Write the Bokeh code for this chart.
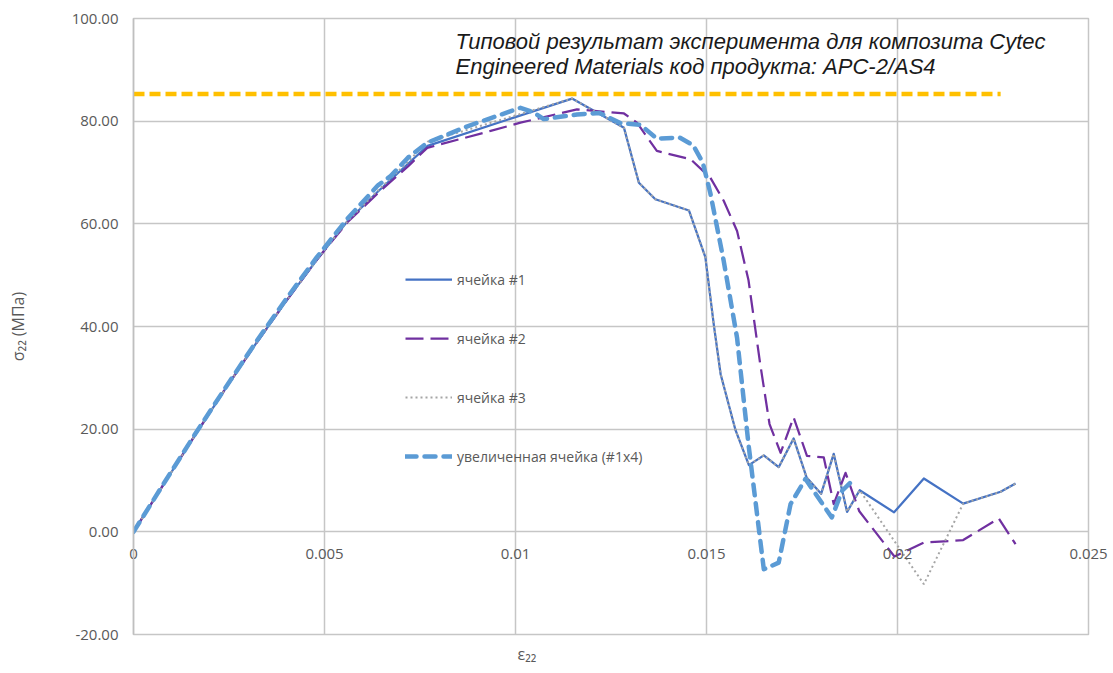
from bokeh.plotting import figure
from bokeh.models import (Range1d, FixedTicker, PrintfTickFormatter, Legend,
                          LegendItem, Label, LinearAxis, Title)
from bokeh.embed import file_html
from bokeh.resources import INLINE

# Strain / stress curves, σ22 in MPa versus ε22
eps_cell1 = [0.0, 0.0008, 0.0016, 0.0024, 0.0032, 0.0040, 0.0048, 0.0056, 0.0064, 0.0072,
             0.0077, 0.01148, 0.01284, 0.01323, 0.01366, 0.01454, 0.01497, 0.01519, 0.01537,
             0.01576, 0.01611, 0.0165, 0.01689, 0.01728, 0.01762, 0.0180, 0.01833, 0.01868,
             0.01901, 0.01991, 0.02069, 0.02172, 0.0227, 0.02309]
sig_cell1 = [0.0, 9.4, 18.7, 27.8, 36.6, 45.0, 53.0, 60.5, 66.3, 71.8,
             75.2, 84.4, 78.7, 68.0, 64.8, 62.6, 53.5, 40.4, 30.7,
             19.8, 13.0, 14.9, 12.6, 18.2, 10.6, 7.4, 15.2, 3.9,
             8.1, 3.8, 10.4, 5.5, 7.8, 9.4]

eps_cell2 = [0.0, 0.0008, 0.0016, 0.0024, 0.0032, 0.0040, 0.0048, 0.0056, 0.0064, 0.0072,
             0.00769, 0.00935, 0.01013, 0.01161, 0.01284, 0.01318, 0.0137, 0.01458, 0.0151,
             0.01545, 0.0158, 0.0161, 0.0164, 0.01665, 0.01694, 0.01728, 0.01763, 0.01807,
             0.01833, 0.01864, 0.0190, 0.01992, 0.02069, 0.02172, 0.02265, 0.02309]
sig_cell2 = [0.0, 9.4, 18.7, 27.8, 36.6, 45.0, 53.0, 60.3, 66.0, 71.3,
             74.8, 78.1, 79.7, 82.3, 81.5, 79.7, 74.2, 72.6, 69.0,
             64.5, 58.6, 49.0, 33.0, 21.0, 15.4, 22.3, 14.8, 14.5,
             5.4, 11.5, 4.0, -4.8, -2.1, -1.6, 2.6, -2.4]

eps_cell3 = [0.0, 0.0008, 0.0016, 0.0024, 0.0032, 0.0040, 0.0048, 0.0056, 0.0064, 0.0072,
             0.0077, 0.01148, 0.01284, 0.01323, 0.01366, 0.01454, 0.01497, 0.01519, 0.01537,
             0.01576, 0.01611, 0.0165, 0.01689, 0.01728, 0.01762, 0.0180, 0.01833, 0.01868,
             0.01901, 0.02069, 0.02172, 0.0227, 0.02309]
sig_cell3 = [0.0, 9.4, 18.7, 27.8, 36.6, 45.0, 53.0, 60.5, 66.5, 72.2,
             76.0, 84.4, 78.7, 68.0, 64.8, 62.6, 53.5, 40.4, 30.7,
             19.8, 13.0, 14.9, 12.6, 18.2, 10.6, 7.4, 15.2, 3.9,
             8.1, -10.2, 5.5, 7.8, 9.4]

eps_big = [0.0, 0.0008, 0.0016, 0.0024, 0.0032, 0.0040, 0.0048, 0.0056, 0.0064, 0.00673,
           0.0072, 0.00769, 0.00874, 0.01013, 0.01048, 0.01074, 0.01161, 0.0122, 0.01275,
           0.01327, 0.0137, 0.0143, 0.01465, 0.0149, 0.0151, 0.01545, 0.0158, 0.0161,
           0.0165, 0.01689, 0.0172, 0.01759, 0.01828, 0.01855, 0.01881]
sig_big = [0.0, 9.5, 18.9, 28.0, 36.9, 45.4, 53.5, 61.0, 67.5, 69.3,
           73.0, 75.8, 79.0, 82.6, 81.7, 80.4, 81.3, 81.6, 79.6,
           79.3, 76.6, 76.8, 75.3, 72.0, 66.0, 52.8, 37.8, 17.0,
           -7.3, -6.0, 5.4, 10.3, 2.8, 8.0, 9.9]

strength_eps = [0.0, 0.0227]
strength_level = 85.3

legend_labels = ["ячейка #1", "ячейка #2", "ячейка #3", "увеличенная ячейка (#1x4)"]
title_lines = ["Типовой результат эксперимента для композита Cytec",
               "Engineered Materials код продукта: APC-2/AS4"]
x_ticks = [0.0, 0.005, 0.01, 0.015, 0.02, 0.025]
x_tick_text = ["0", "0.005", "0.01", "0.015", "0.02", "0.025"]
y_ticks = [-20, 0, 20, 40, 60, 80, 100]

GRID = "#C6C6C6"
TXT = "#595959"
FONT = "Open Sans"

p = figure(width=1113, height=673, x_range=Range1d(0, 0.025), y_range=Range1d(-20, 100),
           output_backend="svg", toolbar_location=None, x_axis_location=None,
           min_border_left=133, min_border_right=25, min_border_top=18, min_border_bottom=39)
p.outline_line_color = GRID
p.outline_line_width = 1.5
p.background_fill_color = "white"
p.border_fill_color = "white"

p.xgrid.ticker = FixedTicker(ticks=x_ticks)
p.ygrid.ticker = FixedTicker(ticks=y_ticks)
p.grid.grid_line_color = GRID
p.grid.grid_line_width = 1.5

# vertical axis
ya = p.yaxis[0]
ya.ticker = FixedTicker(ticks=y_ticks)
ya.formatter = PrintfTickFormatter(format="%.2f")
ya.major_tick_line_color = None
ya.minor_tick_line_color = None
ya.axis_line_color = "#BFBFBF"
ya.axis_line_width = 1.5
ya.major_label_standoff = 9
ya.major_label_text_font = FONT
ya.major_label_text_font_size = "15px"
ya.major_label_text_color = TXT
ya.axis_label = "σ₂₂ (МПа)"
ya.axis_label_text_font = FONT
ya.axis_label_text_font_size = "16px"
ya.axis_label_text_font_style = "normal"
ya.axis_label_text_color = TXT
ya.axis_label_standoff = 40

# horizontal axis: tick labels sit just under the σ = 0 line
xa = LinearAxis(ticker=FixedTicker(ticks=x_ticks),
                major_label_overrides={t: s for t, s in zip(x_ticks, x_tick_text)},
                major_tick_line_color=None, minor_tick_line_color=None,
                axis_line_color=None, major_label_standoff=-92,
                major_label_text_font=FONT, major_label_text_font_size="15px",
                major_label_text_color=TXT)
p.add_layout(xa, "below")

# strain axis title, left-aligned under the frame and shifted right
p.add_layout(Title(text="ε₂₂", align="left", offset=384, standoff=12,
                   text_font=FONT, text_font_size="16px", text_font_style="normal",
                   text_color=TXT), "below")

r1 = p.line(eps_cell1, sig_cell1, line_color="#4472C4", line_width=2.25, line_join="round")
r2 = p.line(eps_cell2, sig_cell2, line_color="#7030A0", line_width=2.25, line_dash="18 7",
            line_join="round")
r3 = p.line(eps_cell3, sig_cell3, line_color="#A5A5A5", line_width=2, line_dash="2 3")
r4 = p.line(eps_big, sig_big, line_color="#5B9BD5", line_width=4.5, line_dash="11 8",
            line_cap="round", line_join="round")
p.line(strength_eps, [strength_level] * len(strength_eps), line_color="#FFC000",
       line_width=4.5, line_dash="11 5")

legend = Legend(items=[LegendItem(label=lab, renderers=[r])
                       for lab, r in zip(legend_labels, [r1, r2, r3, r4])],
                location=(272, 168), orientation="vertical", spacing=39,
                glyph_width=47, glyph_height=20, label_height=20, label_standoff=5,
                padding=0, margin=0, border_line_color=None, background_fill_alpha=0,
                label_text_font=FONT, label_text_font_size="14px", label_text_color=TXT)
p.add_layout(legend)

for text, yv in zip(title_lines, [95.6, 90.7]):
    p.add_layout(Label(x=0.00843, y=yv, text=text, text_font="Liberation Sans",
                       text_font_style="italic", text_font_size="22px",
                       text_color="#1A1A1A", text_baseline="alphabetic"))

open("out.html", "w").write(file_html(p, INLINE))
